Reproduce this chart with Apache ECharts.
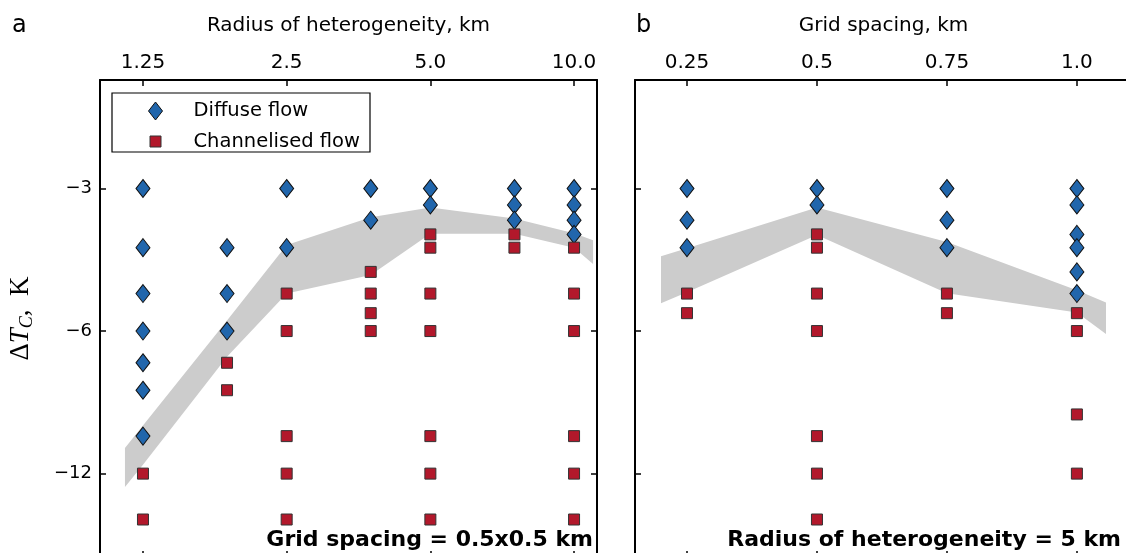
<!DOCTYPE html>
<html>
<head>
<meta charset="utf-8">
<title>Delta T_C vs radius and grid spacing</title>
<script src="https://cdn.jsdelivr.net/npm/echarts@6/dist/echarts.min.js"></script>
<style>
    html, body { margin: 0; padding: 0; background: #fff; }
    #chart { width: 1126px; height: 553px; }
</style>
</head>
<body>
<div id="chart"></div>
<script>
    // panel a: radius of heterogeneity, km (grid spacing 0.5x0.5 km)
    // values are |dT_C| in K, drawn as negative on the axis
    var radiusCols = [1.25, 1.875, 2.5, 3.75, 5, 7.5, 10];
    var diffuseA = [[3, 4, 5, 6, 7, 8, 10], [4, 5, 6], [3, 4], [3, 3.5], [3, 3.25], [3, 3.25, 3.5], [3, 3.25, 3.5, 3.75]];
    var channelA = [[12, 15], [7, 8], [5, 6, 10, 12, 15], [4.5, 5, 5.5, 6], [3.75, 4, 5, 6, 10, 12, 15], [3.75, 4], [4, 5, 6, 10, 12, 15]];
    var bandAX = [1.146, 1.25, 1.875, 2.5, 3.75, 5, 7.5, 10, 10.96];
    var bandAUpper = [10.6, 9.5, 5.7, 3.95, 3.45, 3.29, 3.47, 3.73, 3.86];
    var bandALower = [12.8, 11.5, 6.8, 5.0, 4.57, 3.74, 3.74, 4.0, 4.33];

    // panel b: grid spacing, km (radius of heterogeneity 5 km)
    var spacingCols = [0.25, 0.5, 0.75, 1.0];
    var diffuseB = [[3, 3.5, 4], [3, 3.25], [3, 3.5, 4], [3, 3.25, 3.75, 4, 4.5, 5]];
    var channelB = [[5, 5.5], [3.75, 4, 5, 6, 10, 12, 15], [5, 5.5], [5.5, 6, 9, 12]];
    var bandBX = [0.2, 0.25, 0.5, 0.75, 1.0, 1.056];
    var bandBUpper = [4.17, 4.01, 3.29, 3.89, 4.92, 5.22];
    var bandBLower = [5.24, 4.97, 3.76, 4.99, 5.48, 6.09];

    // tick labels
    var radiusTicks = [1.25, 2.5, 5, 10];
    var radiusTickLabels = ['1.25', '2.5', '5.0', '10.0'];
    var spacingTicks = [0.25, 0.5, 0.75, 1.0];
    var spacingTickLabels = ['0.25', '0.5', '0.75', '1.0'];
    var dtTicks = [3, 6, 12];
    var dtTickLabels = ['\u22123', '\u22126', '\u221212'];

    var SANS = '"DejaVu Sans", sans-serif';
    var SERIF = '"Liberation Serif", serif';

    function pickLabel(v, ticks, labels) {
        var best = 0;
        for (var i = 1; i < ticks.length; i++) {
            if (Math.abs(ticks[i] - v) < Math.abs(ticks[best] - v)) best = i;
        }
        return labels[best];
    }

    function toPoints(cols, groups) {
        var pts = [];
        cols.forEach(function (x, i) {
            groups[i].forEach(function (y) { pts.push([x, y]); });
        });
        return pts;
    }

    var lineStyle = {color: '#000', width: 2};
    var tickStyle = {show: true, inside: true, length: 6, lineStyle: {color: '#000', width: 1.5}};

    function xAxisDef(grid, pos, type, min, max, ticks, labels, name) {
        var ax = {
            gridIndex: grid, type: type, position: pos, min: min, max: max,
            axisLine: {show: true, onZero: false, lineStyle: lineStyle},
            axisTick: Object.assign({customValues: ticks}, tickStyle),
            splitLine: {show: false},
            axisLabel: {show: false}
        };
        if (type === 'log') ax.logBase = 2;
        if (labels) {
            ax.axisLabel = {
                show: true, customValues: ticks, margin: 7,
                fontFamily: SANS, fontSize: 20, color: '#000',
                formatter: function (v) { return pickLabel(v, ticks, labels); }
            };
            ax.name = name;
            ax.nameLocation = 'middle';
            ax.nameGap = 44;
            ax.nameMoveOverlap = false;
            ax.nameTextStyle = {fontFamily: SANS, fontSize: 20, color: '#000'};
        }
        return ax;
    }

    function yAxisDef(grid, pos, withLabels) {
        var ax = {
            gridIndex: grid, type: 'log', logBase: 2, inverse: true, position: pos,
            min: 1.77, max: 18,
            axisLine: {show: true, onZero: false, lineStyle: lineStyle},
            axisTick: Object.assign({customValues: dtTicks}, tickStyle),
            splitLine: {show: false},
            axisLabel: {show: false}
        };
        if (withLabels) {
            ax.axisLabel = {
                show: true, customValues: dtTicks, margin: 8,
                fontFamily: SANS, fontSize: 18, color: '#000',
                formatter: function (v) { return pickLabel(v, dtTicks, dtTickLabels); }
            };
            ax.name = '{d|\u0394}{t|T}{c|C}{d|,  K}';
            ax.nameLocation = 'middle';
            ax.nameRotate = 90;
            ax.nameGap = 64;
            ax.nameMoveOverlap = false;
            ax.nameTextStyle = {
                color: '#000',
                rich: {
                    d: {fontFamily: SERIF, fontSize: 27, color: '#000'},
                    t: {fontFamily: SERIF, fontSize: 27, fontStyle: 'italic', color: '#000'},
                    c: {fontFamily: SERIF, fontSize: 18, fontStyle: 'italic', color: '#000', padding: [12, 0, 0, 0]}
                }
            };
        }
        return ax;
    }

    function bandSeries(xs, up, lo, xi, yi) {
        return {
            type: 'custom', xAxisIndex: xi, yAxisIndex: yi, silent: true, z: 1,
            data: [[xs[0], up[0]]],
            renderItem: function (params, api) {
                var pts = [];
                for (var i = 0; i < xs.length; i++) pts.push(api.coord([xs[i], up[i]]));
                for (var j = xs.length - 1; j >= 0; j--) pts.push(api.coord([xs[j], lo[j]]));
                return {type: 'polygon', shape: {points: pts}, style: {fill: '#cccccc'}};
            }
        };
    }

    function diffuse(pts, xi, yi) {
        return {
            name: 'Diffuse flow', type: 'scatter', xAxisIndex: xi, yAxisIndex: yi, z: 3,
            symbol: 'diamond', symbolSize: [14, 18], data: pts,
            itemStyle: {color: '#2166ac', borderColor: '#111', borderWidth: 1, opacity: 1}
        };
    }

    function channel(pts, xi, yi) {
        return {
            name: 'Channelised flow', type: 'scatter', xAxisIndex: xi, yAxisIndex: yi, z: 3,
            symbol: 'rect', symbolSize: 11, data: pts,
            itemStyle: {color: '#b2182b', borderColor: '#333', borderWidth: 1, opacity: 1}
        };
    }

    var chart = echarts.init(document.getElementById('chart'), null, {renderer: 'canvas'});

    var option = {
        animation: false,
        backgroundColor: '#fff',
        grid: [
            {left: 100, top: 80, width: 497, height: 477, outerBoundsMode: 'none'},
            {left: 635, top: 80, width: 497, height: 477, outerBoundsMode: 'none'}
        ],
        xAxis: [
            xAxisDef(0, 'top', 'log', 1.016, 11.17, radiusTicks, radiusTickLabels, 'Radius of heterogeneity, km'),
            xAxisDef(0, 'bottom', 'log', 1.016, 11.17, radiusTicks, null),
            xAxisDef(1, 'top', 'value', 0.15, 1.106, spacingTicks, spacingTickLabels, 'Grid spacing, km'),
            xAxisDef(1, 'bottom', 'value', 0.15, 1.106, spacingTicks, null)
        ],
        yAxis: [
            yAxisDef(0, 'left', true),
            yAxisDef(0, 'right', false),
            yAxisDef(1, 'left', false),
            yAxisDef(1, 'right', false)
        ],
        legend: [
            {
                data: [{name: 'Diffuse flow', icon: 'diamond'}],
                left: 148, top: 101, padding: 0, itemWidth: 14, itemHeight: 18,
                selectedMode: false, z: 10,
                itemStyle: {borderColor: '#111', borderWidth: 1},
                textStyle: {fontFamily: SANS, fontSize: 19.5, color: '#000', padding: [0, 0, 0, 26]}
            },
            {
                data: [{name: 'Channelised flow', icon: 'rect'}],
                left: 149.5, top: 131.5, padding: 0, itemWidth: 11, itemHeight: 11,
                selectedMode: false, z: 10,
                itemStyle: {borderColor: '#333', borderWidth: 1},
                textStyle: {fontFamily: SANS, fontSize: 19.5, color: '#000', padding: [0, 0, 0, 27.5]}
            }
        ],
        graphic: [
            {type: 'rect', shape: {x: 112, y: 93, width: 258, height: 59}, z: 5,
                style: {fill: '#fff', stroke: '#000', lineWidth: 1.2}},
            {type: 'text', x: 12, y: 26, z: 5,
                style: {text: 'a', font: '24px "DejaVu Sans"', fill: '#000', verticalAlign: 'middle'}},
            {type: 'text', x: 636, y: 26, z: 5,
                style: {text: 'b', font: '24px "DejaVu Sans"', fill: '#000', verticalAlign: 'middle'}},
            {type: 'text', x: 593, y: 540, z: 5,
                style: {text: 'Grid spacing = 0.5x0.5 km', font: 'bold 22px "DejaVu Sans"', fill: '#000',
                    align: 'right', verticalAlign: 'middle'}},
            {type: 'text', x: 1121, y: 540, z: 5,
                style: {text: 'Radius of heterogeneity = 5 km', font: 'bold 22px "DejaVu Sans"', fill: '#000',
                    align: 'right', verticalAlign: 'middle'}}
        ],
        series: [
            bandSeries(bandAX, bandAUpper, bandALower, 0, 0),
            diffuse(toPoints(radiusCols, diffuseA), 0, 0),
            channel(toPoints(radiusCols, channelA), 0, 0),
            bandSeries(bandBX, bandBUpper, bandBLower, 2, 2),
            diffuse(toPoints(spacingCols, diffuseB), 2, 2),
            channel(toPoints(spacingCols, channelB), 2, 2)
        ]
    };

    chart.setOption(option);
</script>
</body>
</html>
